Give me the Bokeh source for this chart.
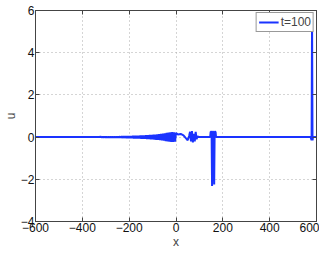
from bokeh.plotting import figure
from bokeh.models import FixedTicker, CustomJSTickFormatter, LinearAxis, Range1d, Legend, LegendItem
from bokeh.embed import file_html
from bokeh.resources import INLINE

# ---- data ----
base_left_x = [-600, -500, -400, -330]
base_left_u = [0.0, 0.0, 0.0, 0.0]

packet_x = [-320, -316, -312, -308, -304, -300, -296, -292, -288, -284,
            -280, -276, -272, -268, -264, -260, -256, -252, -248, -244,
            -240, -236, -232, -228, -224, -220, -216, -212, -208, -204,
            -200, -196, -192, -188, -184, -180, -176, -172, -168, -164,
            -160, -156, -152, -148, -144, -140, -136, -132, -128, -124,
            -120, -116, -112, -108, -104, -100, -96, -92, -88, -84,
            -80, -76, -72, -68, -64, -60, -56, -52, -48, -44,
            -40, -36, -32, -28, -24, -20, -16, -12, -8, -4,
            0]
packet_u = [0.015, -0.015, 0.016, -0.016, 0.017, -0.018, 0.018, -0.019, 0.02, -0.02,
            0.021, -0.022, 0.022, -0.023, 0.024, -0.025, 0.026, -0.027, 0.028, -0.029,
            0.03, -0.031, 0.032, -0.034, 0.035, -0.036, 0.038, -0.039, 0.04, -0.042,
            0.044, -0.046, 0.048, -0.05, 0.052, -0.054, 0.056, -0.058, 0.06, -0.062,
            0.064, -0.066, 0.068, -0.07, 0.072, -0.075, 0.078, -0.08, 0.083, -0.086,
            0.09, -0.093, 0.096, -0.1, 0.104, -0.108, 0.112, -0.116, 0.12, -0.125,
            0.13, -0.135, 0.14, -0.146, 0.152, -0.158, 0.165, -0.172, 0.18, -0.188,
            0.196, -0.204, 0.212, -0.22, 0.226, -0.23, 0.232, -0.232, 0.228, -0.22,
            0.2]

wiggle_x = [8, 20, 32, 42, 50, 56, 60, 64, 68, 72, 76, 80, 84, 88, 92, 96]
wiggle_u = [0.12, 0.15, 0.08, -0.05, -0.15, 0.05, 0.25, -0.2, 0.28, -0.25, 0.15, -0.2, 0.25, -0.1, 0.05, 0.0]

spikes_x = [146, 148, 152, 154, 156, 160, 163, 165, 169, 171]
spikes_u = [0.0, 0.25, 0.25, -2.32, 0.25, 0.25, -2.25, 0.25, 0.25, 0.0]

front_x = [575, 579, 581, 583, 585, 600]
front_u = [0.0, -0.15, 5.6, -0.15, 0.0, 0.0]

x_ticks = [-600, -400, -200, 0, 200, 400, 600]
y_ticks = [-4, -2, 0, 2, 4, 6]

xs = base_left_x + packet_x + wiggle_x + spikes_x + front_x
us = base_left_u + packet_u + wiggle_u + spikes_u + front_u

FONT = "Liberation Sans"

p = figure(width=319, height=251, output_backend="svg", toolbar_location=None,
           x_range=Range1d(-600, 600), y_range=Range1d(-4, 6),
           min_border_left=28, min_border_right=3, min_border_top=10, min_border_bottom=20)

line = p.line(xs, us, line_color="#1a33ff", line_width=2)

fmt = CustomJSTickFormatter(code="return tick.toString().replace('-', '\u2212');")
blank = CustomJSTickFormatter(code="return '';")

for ax in p.xaxis + p.yaxis:
    ax.major_label_text_font = FONT
    ax.major_label_text_font_size = "12px"
    ax.major_label_text_color = "#111111"
    ax.axis_label_text_font = FONT
    ax.axis_label_text_font_size = "12px"
    ax.axis_label_text_font_style = "normal"
    ax.major_tick_in = 4
    ax.major_tick_out = 0
    ax.minor_tick_in = 0
    ax.minor_tick_out = 0
    ax.axis_line_color = "#444444"
    ax.major_tick_line_color = "#444444"
    ax.formatter = fmt
    ax.major_label_standoff = 1
    ax.axis_label_standoff = 0

p.xaxis.ticker = FixedTicker(ticks=x_ticks)
p.yaxis.ticker = FixedTicker(ticks=y_ticks)
p.xaxis.axis_label = "x"
p.yaxis.axis_label = "u"

for loc in ("right", "above"):
    ax = LinearAxis(ticker=FixedTicker(ticks=(y_ticks if loc == "right" else x_ticks)))
    ax.formatter = blank
    ax.major_label_standoff = 0
    ax.major_tick_in = 4
    ax.major_tick_out = 0
    ax.minor_tick_in = 0
    ax.minor_tick_out = 0
    ax.axis_line_color = "#444444"
    ax.major_tick_line_color = "#444444"
    p.add_layout(ax, loc)

p.xgrid.ticker = FixedTicker(ticks=x_ticks)
p.ygrid.ticker = FixedTicker(ticks=y_ticks)
p.grid.grid_line_color = "#aaaaaa"
p.grid.grid_line_dash = "1 3"
p.grid.grid_line_width = 1
p.outline_line_color = "#444444"

legend = Legend(items=[LegendItem(label="t=100", renderers=[line])], location="top_right")
legend.label_text_font = FONT
legend.label_text_font_size = "12px"
legend.border_line_color = "#333333"
legend.margin = 2
legend.padding = 2
legend.spacing = 0
legend.glyph_width = 20
legend.glyph_height = 12
legend.label_height = 12
legend.label_standoff = 2
legend.background_fill_alpha = 1
p.add_layout(legend)

open("out.html", "w").write(file_html(p, INLINE))
